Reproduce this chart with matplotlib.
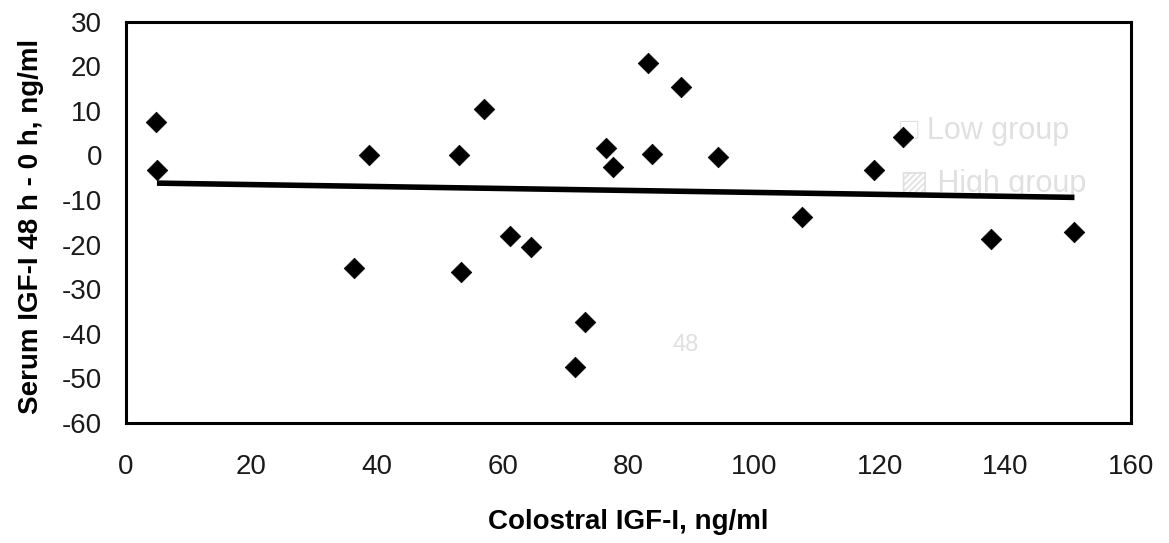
import matplotlib
matplotlib.use("Agg")
import matplotlib.pyplot as plt

plt.rcParams["font.family"] = ["Liberation Sans", "DejaVu Sans"]
plt.rcParams["axes.unicode_minus"] = False

# ── Data ─────────────────────────────────────────────────────────────────────
colostral_igf = [4.8, 5.0, 36.3, 38.7, 53.1, 53.4, 57.1, 61.2, 64.5, 71.6, 73.1,
                 76.4, 77.5, 83.2, 83.7, 88.4, 94.2, 107.7, 119.1, 123.7, 137.7, 150.9]
serum_change = [7.4, -3.3, -25.3, 0.0, 0.0, -26.1, 10.4, -18.1, -20.6, -47.4, -37.3,
                1.7, -2.6, 20.7, 0.4, 15.3, -0.3, -13.7, -3.3, 4.2, -18.8, -17.2]

# trend line end points
trend_x = [5.0, 151.0]
trend_y = [-6.2, -9.4]

x_ticks = [0, 20, 40, 60, 80, 100, 120, 140, 160]
y_ticks = [30, 20, 10, 0, -10, -20, -30, -40, -50, -60]

fig = plt.figure(figsize=(11.69, 5.43), dpi=100)
ax = fig.add_axes([0.1074, 0.2210, 0.8601, 0.7390])

ax.scatter(colostral_igf, serum_change, marker="D", s=110, c="black",
           edgecolors="black", linewidths=0.5, zorder=4)
ax.plot(trend_x, trend_y, color="black", linewidth=4, solid_capstyle="butt", zorder=3)

# faint bleed-through from the facing page of the scan
ax.text(0.770, 0.727, "\u25a1 Low group", transform=ax.transAxes, fontsize=22,
        color="#e0e0e0", ha="left", va="center", zorder=1)
ax.text(0.770, 0.595, "\u25a8 High group", transform=ax.transAxes, fontsize=22,
        color="#e0e0e0", ha="left", va="center", zorder=1)
ax.text(0.557, 0.195, "48", transform=ax.transAxes, fontsize=17,
        color="#e0e0e0", ha="center", va="center", zorder=1)

ax.set_xlim(0, 160)
ax.set_ylim(-60, 30)
ax.set_xticks(x_ticks)
ax.set_yticks(y_ticks)
ax.tick_params(axis="both", length=0, labelsize=20, colors="#1a1a1a")
ax.tick_params(axis="x", pad=22)
ax.tick_params(axis="y", pad=17)

for sp in ax.spines.values():
    sp.set_linewidth(2.2)
    sp.set_color("black")

ax.set_xlabel("Colostral IGF-I, ng/ml", fontsize=20, fontweight="bold")
ax.set_ylabel("Serum IGF-I 48 h - 0 h, ng/ml", fontsize=20, fontweight="bold")
ax.xaxis.set_label_coords(0.5, -0.215)
ax.yaxis.set_label_coords(-0.081, 0.49)

fig.savefig("out.png", dpi=100)
plt.close(fig)
